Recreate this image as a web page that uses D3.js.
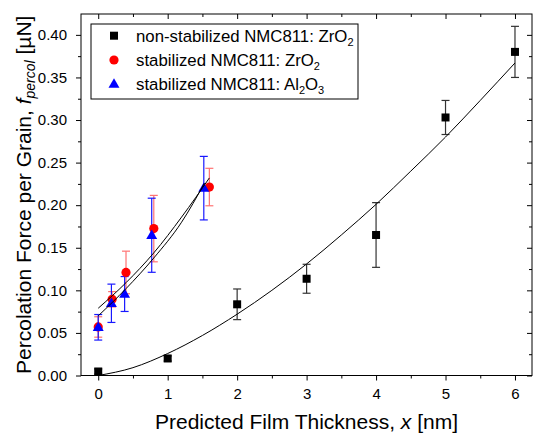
<!DOCTYPE html>
<html>
<head>
<meta charset="utf-8">
<script src="https://cdn.jsdelivr.net/npm/d3@7"></script>
<style>
  body { margin: 0; background: #fff; }
  svg { font-family: "Liberation Sans", Arial, sans-serif; }
  .axis path, .axis line { stroke: #000; stroke-width: 1; }
  .axis text { font-size: 15px; fill: #000; font-family: "Liberation Sans", Arial, sans-serif; }
</style>
</head>
<body>
<div id="chart"></div>
<script>
var width = 533;
var height = 433;

// non-stabilized NMC811 : ZrO2
var blackX = [0, 1, 2, 3, 4, 5, 6];
var blackY = [0.0047, 0.020, 0.0836, 0.1136, 0.165, 0.303, 0.380];
var blackErr = [0.003, 0.003, 0.018, 0.017, 0.038, 0.020, 0.030];
// fit curve
var blackFitX = [0, 0.5, 1, 1.5, 2, 2.5, 3, 3.5, 4, 4.5, 5, 5.5, 6];
var blackFitY = [0.0, 0.0092, 0.0258, 0.047, 0.072, 0.100, 0.131, 0.165, 0.201, 0.240, 0.280, 0.323, 0.367];

// stabilized NMC811 : ZrO2
var redX = [0, 0.2, 0.4, 0.8, 1.6];
var redY = [0.057, 0.0895, 0.121, 0.1725, 0.2213];
var redErr = [0.012, 0.009, 0.025, 0.039, 0.022];
var redFitX = [0, 0.4, 0.8, 1.2, 1.6];
var redFitY = [0.079, 0.109, 0.144, 0.186, 0.232];

// stabilized NMC811 : Al2O3
var blueX = [0, 0.19, 0.38, 0.77, 1.52];
var blueY = [0.0566, 0.0848, 0.0957, 0.1647, 0.220];
var blueErr = [0.015, 0.0225, 0.0205, 0.0435, 0.0373];
var blueFitX = [0, 0.4, 0.8, 1.2, 1.53];
var blueFitY = [0.070, 0.102, 0.138, 0.180, 0.226];

var xTicks = [0, 1, 2, 3, 4, 5, 6];
var xMinor = [0.5, 1.5, 2.5, 3.5, 4.5, 5.5];
var yTicks = [0, 0.05, 0.10, 0.15, 0.20, 0.25, 0.30, 0.35, 0.40];
var yMinor = [0.025, 0.075, 0.125, 0.175, 0.225, 0.275, 0.325, 0.375];

var legendLabels = [
	{ main: 'non-stabilized NMC811: ZrO', sub: '2', after: '' },
	{ main: 'stabilized NMC811: ZrO', sub: '2', after: '' },
	{ main: 'stabilized NMC811: Al', sub: '2', after: 'O', sub2: '3' }
];

var pLeft = 81, pRight = 532, pTop = 14, pBottom = 375.5;

var svg = d3.select('#chart').append('svg')
	.attr('width', width)
	.attr('height', height);

var xScale = d3.scaleLinear().domain([-0.248, 6.245]).range([pLeft, pRight]);
var yScale = d3.scaleLinear().domain([0, 0.4245]).range([pBottom, pTop]);

var fmtY = d3.format('.2f');

// minor ticks first, then the majors with labels
svg.append('g').attr('class', 'axis').attr('transform', 'translate(0,' + pBottom + ')')
	.call(d3.axisBottom(xScale).tickValues(xMinor).tickSize(3).tickFormat(''));
svg.append('g').attr('class', 'axis').attr('transform', 'translate(0,' + pBottom + ')')
	.call(d3.axisBottom(xScale).tickValues(xTicks).tickSize(5).tickPadding(8).tickFormat(d3.format('d')));

svg.append('g').attr('class', 'axis').attr('transform', 'translate(0,' + pTop + ')')
	.call(d3.axisTop(xScale).tickValues(xMinor).tickSize(-3).tickFormat(''));
svg.append('g').attr('class', 'axis').attr('transform', 'translate(0,' + pTop + ')')
	.call(d3.axisTop(xScale).tickValues(xTicks).tickSize(-5).tickFormat(''));

svg.append('g').attr('class', 'axis').attr('transform', 'translate(' + pLeft + ',0)')
	.call(d3.axisLeft(yScale).tickValues(yMinor).tickSize(3).tickFormat(''));
svg.append('g').attr('class', 'axis').attr('transform', 'translate(' + pLeft + ',0)')
	.call(d3.axisLeft(yScale).tickValues(yTicks).tickSize(5).tickPadding(9).tickFormat(fmtY));

svg.append('g').attr('class', 'axis').attr('transform', 'translate(' + pRight + ',0)')
	.call(d3.axisRight(yScale).tickValues(yMinor).tickSize(-3).tickFormat(''));
svg.append('g').attr('class', 'axis').attr('transform', 'translate(' + pRight + ',0)')
	.call(d3.axisRight(yScale).tickValues(yTicks).tickSize(-5).tickFormat(''));

svg.selectAll('.axis path').remove();

// frame
svg.append('rect')
	.attr('x', pLeft).attr('y', pTop)
	.attr('width', pRight - pLeft).attr('height', pBottom - pTop)
	.attr('fill', 'none').attr('stroke', '#000').attr('stroke-width', 1);

// error bars
function errorBars(xs, ys, es, color, opacity) {
	var g = svg.append('g').attr('stroke', color).attr('stroke-width', 1.2).attr('opacity', opacity);
	var cap = 4;
	xs.forEach(function(xv, i) {
		var px = xScale(xv);
		var y1 = yScale(ys[i] - es[i]), y2 = yScale(ys[i] + es[i]);
		g.append('line').attr('x1', px).attr('x2', px).attr('y1', y1).attr('y2', y2);
		g.append('line').attr('x1', px - cap).attr('x2', px + cap).attr('y1', y1).attr('y2', y1);
		g.append('line').attr('x1', px - cap).attr('x2', px + cap).attr('y1', y2).attr('y2', y2);
	});
}

function zip(xs, ys) {
	return xs.map(function(v, i) { return [v, ys[i]]; });
}

var line = d3.line()
	.x(function(d) { return xScale(d[0]); })
	.y(function(d) { return yScale(d[1]); })
	.curve(d3.curveMonotoneX);

var triangle = d3.symbol().type(d3.symbolTriangle).size(52);

// black series
errorBars(blackX, blackY, blackErr, '#000', 0.8);
svg.append('g').selectAll('rect')
	.data(zip(blackX, blackY))
	.enter().append('rect')
	.attr('x', function(d) { return xScale(d[0]) - 4; })
	.attr('y', function(d) { return yScale(d[1]) - 4; })
	.attr('width', 8).attr('height', 8)
	.attr('fill', '#000');
svg.append('path').datum(zip(blackFitX, blackFitY))
	.attr('d', line).attr('fill', 'none').attr('stroke', '#000').attr('stroke-width', 1);

// red + blue series
errorBars(redX, redY, redErr, '#ff0000', 0.55);
errorBars(blueX, blueY, blueErr, '#0000ff', 0.9);

svg.append('g').selectAll('circle')
	.data(zip(redX, redY))
	.enter().append('circle')
	.attr('cx', function(d) { return xScale(d[0]); })
	.attr('cy', function(d) { return yScale(d[1]); })
	.attr('r', 4.6)
	.attr('fill', '#ff0000');

svg.append('g').selectAll('path')
	.data(zip(blueX, blueY))
	.enter().append('path')
	.attr('d', triangle)
	.attr('transform', function(d) { return 'translate(' + xScale(d[0]) + ',' + (yScale(d[1]) + 0.5) + ')'; })
	.attr('fill', '#0000ff');

svg.append('path').datum(zip(redFitX, redFitY))
	.attr('d', line).attr('fill', 'none').attr('stroke', '#000').attr('stroke-width', 1);
svg.append('path').datum(zip(blueFitX, blueFitY))
	.attr('d', line).attr('fill', 'none').attr('stroke', '#000').attr('stroke-width', 1);

// legend
var legend = svg.append('g');
legend.append('rect')
	.attr('x', 91).attr('y', 24).attr('width', 267).attr('height', 75)
	.attr('fill', '#fff').attr('stroke', '#000').attr('stroke-width', 1);

var rowY = [35.7, 60, 84];
legend.append('rect').attr('x', 110).attr('y', rowY[0] - 4).attr('width', 8).attr('height', 8).attr('fill', '#000');
legend.append('circle').attr('cx', 114).attr('cy', rowY[1]).attr('r', 4.6).attr('fill', '#ff0000');
legend.append('path').attr('d', triangle).attr('transform', 'translate(114,' + (rowY[2] + 0.5) + ')').attr('fill', '#0000ff');

legendLabels.forEach(function(l, i) {
	var t = legend.append('text')
		.attr('x', 136).attr('y', rowY[i] + 6)
		.attr('font-size', '16.8px').attr('fill', '#000');
	t.append('tspan').text(l.main);
	t.append('tspan').attr('font-size', '11px').attr('dy', 4).text(l.sub);
	if (l.after) {
		t.append('tspan').attr('dy', -4).text(l.after);
		t.append('tspan').attr('font-size', '11px').attr('dy', 4).text(l.sub2);
	}
});

// axis titles
svg.append('text')
	.attr('x', (pLeft + pRight) / 2).attr('y', 429)
	.attr('text-anchor', 'middle').attr('font-size', '21px')
	.call(function(t) {
		t.append('tspan').text('Predicted Film Thickness, ');
		t.append('tspan').attr('font-style', 'italic').text('x');
		t.append('tspan').text(' [nm]');
	});

svg.append('text')
	.attr('transform', 'translate(31,' + ((pTop + pBottom) / 2) + ') rotate(-90)')
	.attr('text-anchor', 'middle').attr('font-size', '21px')
	.call(function(t) {
		t.append('tspan').text('Percolation Force per Grain, ');
		t.append('tspan').attr('font-style', 'italic').text('f');
		t.append('tspan').attr('font-style', 'italic').attr('font-size', '14px').attr('dy', 4).text('percol');
		t.append('tspan').attr('dy', -4).text(' [\u00b5N]');
	});
</script>
</body>
</html>
